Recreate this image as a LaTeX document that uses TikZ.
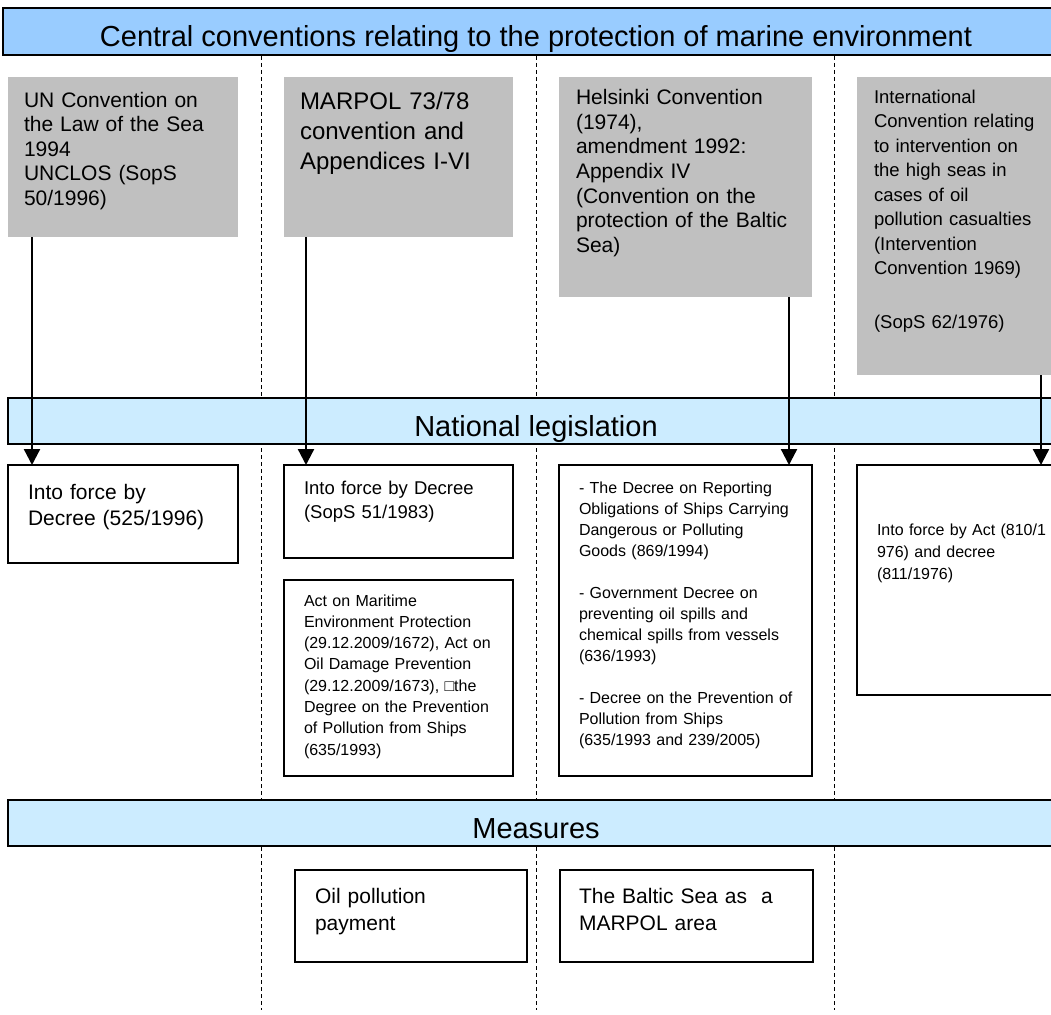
\documentclass[tikz,border=0pt]{standalone}
\usepackage{fontspec}
\setmainfont{Liberation Sans}
\usetikzlibrary{arrows.meta}

\definecolor{headblue}{HTML}{99CCFF}
\definecolor{barblue}{HTML}{CCECFF}
\definecolor{convgray}{HTML}{C0C0C0}

\begin{document}
\begin{tikzpicture}[x=1pt, y=-1pt,
    bar/.style={draw=black, line width=2pt, fill=barblue, anchor=north west, inner sep=0pt, outer sep=0pt, font=\fontsize{29}{33}\selectfont, text height=38pt, text depth=8pt},
    convbox/.style={fill=convgray, anchor=north west, align=left, inner xsep=16pt, inner ysep=0pt, outer sep=0pt},
    lawbox/.style={draw=black, line width=2pt, fill=white, anchor=north west, align=left, inner xsep=20pt, inner ysep=0pt, outer sep=0pt},
    flow/.style={line width=2.3pt, -{Triangle[width=16pt,length=16pt]}},
    divider/.style={line width=0.9pt, dash pattern=on 4pt off 3pt}]
    \useasboundingbox (0,0) rectangle (1051,1014);
    \clip (0,0) rectangle (1051,1014);
    % Column separators
    \foreach \x in {261,536,834}
        \draw[divider] (\x,56) -- (\x,1010);
    % Headings
    \node[bar, fill=headblue, line width=2.3pt, minimum width=1066pt, text height=39pt] (central) at (3,8) {Central conventions relating to the protection of marine environment};
    \node[bar, minimum width=1056pt] (national) at (8,398) {National legislation};
    \node[bar, minimum width=1056pt] (measures) at (8,800) {Measures};
    % Conventions
    \node[convbox, text width=198pt, text height=30pt, text depth=130pt, font=\fontsize{21}{24.5}\selectfont] (unclos) at (8,77) {UN Convention on\\the Law of the Sea\\1994\\UNCLOS (SopS\\50/1996)};
    \node[convbox, text width=197pt, text height=33pt, text depth=127pt, font=\fontsize{24}{30}\selectfont] (marpol) at (284,77) {MARPOL 73/78\\convention and\\Appendices I-VI};
    \node[convbox, inner xsep=17pt, text width=219pt, text height=28pt, text depth=192pt, font=\fontsize{21}{24.5}\selectfont] (helsinki) at (559,77) {Helsinki Convention\\(1974),\\amendment 1992:\\Appendix IV\\(Convention on the\\protection of the Baltic\\Sea)};
    \node[convbox, inner xsep=17pt, text width=185pt, text height=26pt, text depth=272pt, font=\fontsize{18.5}{24.5}\selectfont] (intervention) at (857,77) {International\\Convention relating\\to intervention on\\the high seas in\\cases of oil\\pollution casualties\\(Intervention\\Convention 1969)\\[29pt](SopS 62/1976)};
    % National legislation
    \node[lawbox, text width=190pt, text height=34pt, text depth=64pt, font=\fontsize{21}{26}\selectfont] (decree1) at (8,465) {Into force by\\Decree (525/1996)};
    \node[lawbox, text width=189pt, text height=29pt, text depth=64pt, font=\fontsize{18.5}{24}\selectfont] (decree2) at (284,465) {Into force by Decree\\(SopS 51/1983)};
    \node[lawbox, text width=189pt, text height=26pt, text depth=170pt, font=\fontsize{16}{21.3}\selectfont] (maract) at (284,580) {Act on Maritime\\Environment Protection\\(29.12.2009/1672), Act on\\Oil Damage Prevention\\(29.12.2009/1673), □the\\Degree on the Prevention\\of Pollution from Ships\\(635/1993)};
    \node[lawbox, text width=213pt, text height=28pt, text depth=283pt, font=\fontsize{16}{21}\selectfont] (helsdecree) at (559,465) {- The Decree on Reporting\\Obligations of Ships Carrying\\Dangerous or Polluting\\Goods (869/1994)\\[21pt]- Government Decree on\\preventing oil spills and\\chemical spills from vessels\\(636/1993)\\[21pt]\mbox{- Decree on the Prevention of}\\Pollution from Ships\\(635/1993 and 239/2005)};
    \node[lawbox, text width=180pt, text height=70pt, text depth=160pt, font=\fontsize{16}{22}\selectfont] (intact) at (857,465) {Into force by Act (810/1\\976) and decree\\(811/1976)};
    % Measures
    \node[lawbox, text width=192pt, text height=33pt, text depth=59pt, font=\fontsize{21}{27}\selectfont] (oilpay) at (295,870) {Oil pollution\\payment};
    \node[lawbox, inner xsep=19pt, text width=215pt, text height=33pt, text depth=59pt, font=\fontsize{21}{27}\selectfont] (balticarea) at (560,870) {The Baltic Sea as~~a\\MARPOL area};
    % Arrows into force
    \draw[flow] ([xshift=24pt]unclos.south west) -- ([xshift=24pt]decree1.north west);
    \draw[flow] ([xshift=22pt]marpol.south west) -- ([xshift=22pt]decree2.north west);
    \draw[flow] ([xshift=230pt]helsinki.south west) -- ([xshift=230pt]helsdecree.north west);
    \draw[flow] ([xshift=184pt]intervention.south west) -- ([xshift=184pt]intact.north west);
\end{tikzpicture}
\end{document}
